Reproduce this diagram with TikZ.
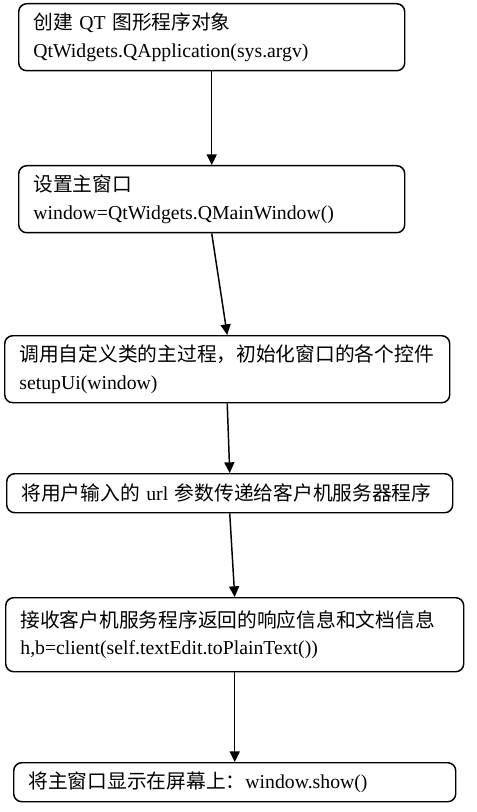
\documentclass[tikz,border=0pt]{standalone}
\usepackage{fontspec}
\setmainfont{Liberation Serif}
\newfontfamily\cjk{Noto Sans CJK SC}
\usepackage{tikz}
\usetikzlibrary{arrows.meta}
\newcommand\zh[1]{{\cjk #1}}
\newcommand\procfont{\fontsize{14.8}{20.5}\selectfont}

\begin{document}
\begin{tikzpicture}
  [ x=0.75pt, y=-0.75pt,
    proc/.style={draw=black, line width=1.1pt, rounded corners=6pt,
      anchor=north west, align=left, inner xsep=11pt, inner ysep=0pt,
      font=\procfont},
    flow/.style={draw=black, line width=1.1pt, -{Triangle[length=8pt,width=7.5pt]}}
  ]
  \useasboundingbox (0,0) rectangle (476,812);

  \node  (app) at ( 18,  3) [proc, text width=267.5pt, minimum height=50.25pt]
    {\zh{创建} QT \zh{图形程序对象}\\QtWidgets.QApplication(sys.argv)};
  \node  (win) at ( 18,165) [proc, text width=267.5pt, minimum height=50.25pt]
    {\zh{设置主窗口}\\window=QtWidgets.QMainWindow()};
  \node (setup) at (  4,335) [proc, text width=311.75pt, minimum height=50.25pt]
    {\zh{调用自定义类的主过程，初始化窗口的各个控件}\\setupUi(window)};
  \node  (url) at (  6,473) [proc, text width=312.5pt, minimum height=29.25pt]
    {\zh{将用户输入的} url \zh{参数传递给客户机服务器程序}};
  \node (recv) at (  5,597) [proc, text width=321.5pt, minimum height=55.5pt]
    {\zh{接收客户机服务程序返回的响应信息和文档信息}\\h,b=client(self.textEdit.toPlainText())};
  \node (show) at ( 13,762) [proc, text width=309.5pt, minimum height=29.25pt]
    {\zh{将主窗口显示在屏幕上：}window.show()};

  \draw [flow] (app.south) -- (win.north);
  \draw [flow] (win.south) -- (setup.north);
  \draw [flow] (setup.south) -- (url.north);
  \draw [flow] (url.south) -- (recv.north);
  \draw [flow] (recv.south) -- (show.north);
\end{tikzpicture}
\end{document}
